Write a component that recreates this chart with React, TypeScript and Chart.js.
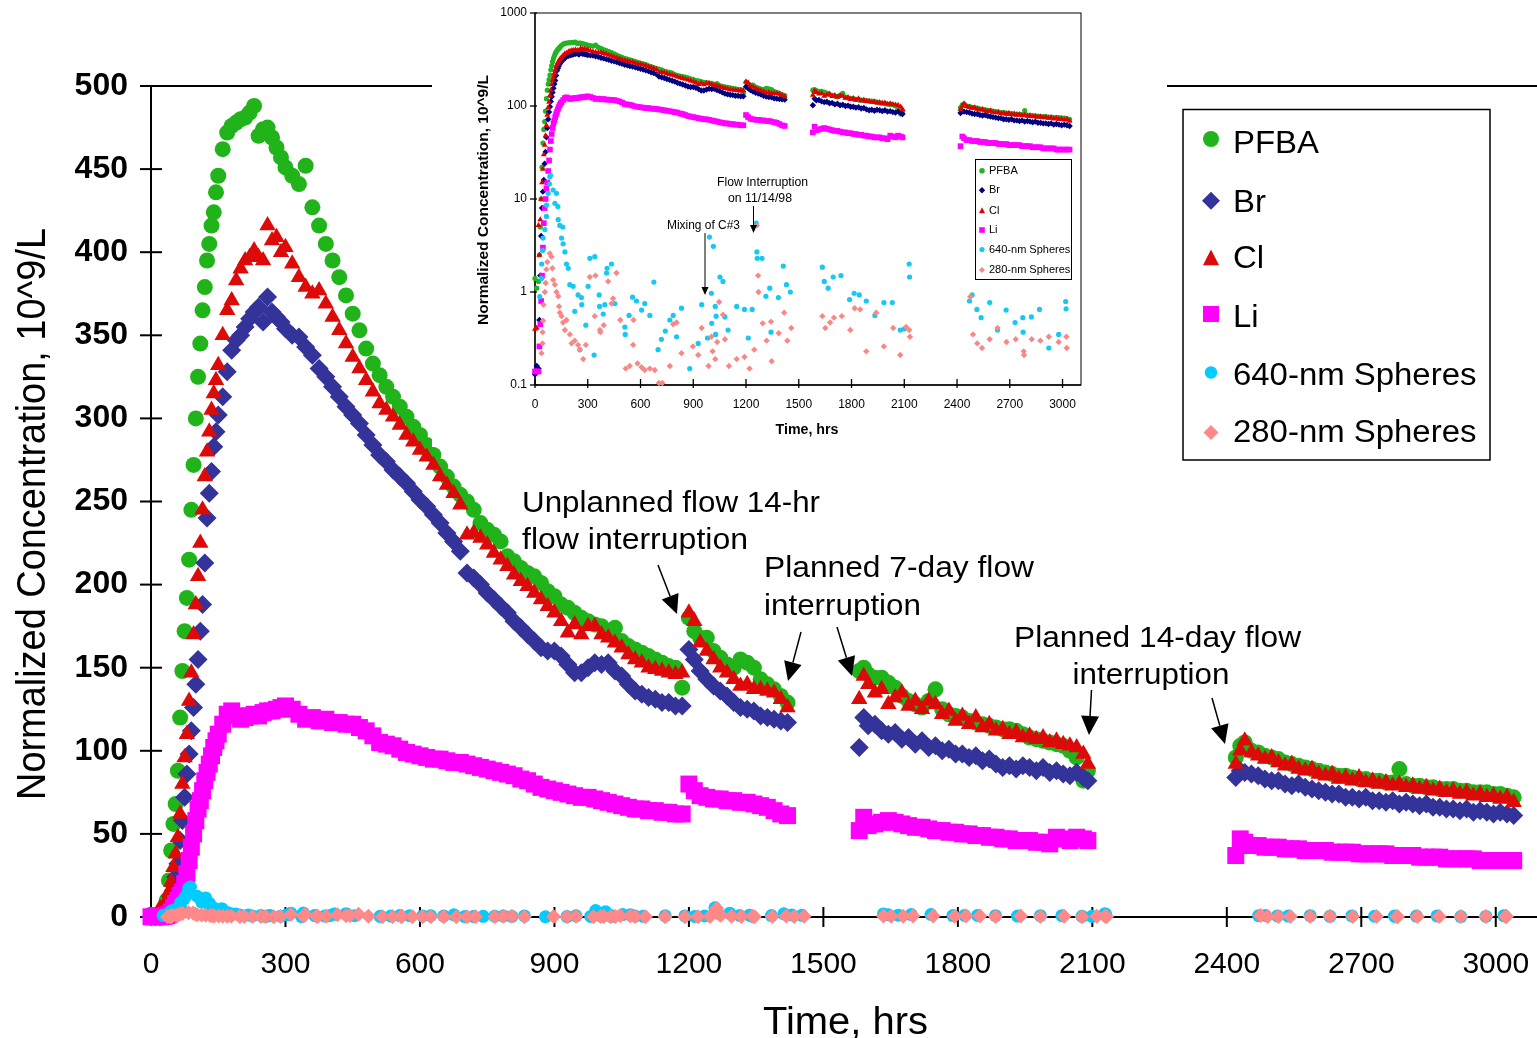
import React, { useEffect, useRef } from "react";
import { Chart, registerables } from "chart.js";

Chart.register(...registerables);

const FONT = "'Liberation Sans', Arial, Helvetica, sans-serif";

// ---------------- DATA ----------------
const tracerHours = [
  0, 10, 20, 25, 30, 35, 40, 45, 50, 55,
  60, 65, 70, 75, 80, 85, 90, 95, 100, 105,
  110, 115, 120, 125, 130, 135, 140, 145, 150,
  160, 170, 180, 190, 200, 210, 220, 230, 240, 250,
  260, 270, 280, 290, 300,
  315, 330, 345, 360, 375, 390, 405, 420, 435, 450,
  465, 480, 495, 510, 525, 540, 555, 570, 585, 600,
  615, 630, 645, 660, 675, 690, 705, 720, 735, 750,
  765, 780, 795, 810, 825, 840, 855, 870, 885, 900,
  915, 930, 945, 960, 975, 990, 1005, 1020, 1035, 1050,
  1065, 1080, 1095, 1110, 1125, 1140, 1155, 1170, 1185,
  1200, 1212, 1225, 1240, 1255, 1270, 1285, 1300, 1315, 1330,
  1345, 1360, 1375, 1390, 1405, 1420,
  1580, 1590, 1600, 1615, 1630, 1645, 1660, 1675, 1690, 1705,
  1720, 1735, 1750, 1765, 1780, 1795, 1810, 1825, 1840, 1855,
  1870, 1885, 1900, 1915, 1930, 1945, 1960, 1975, 1990, 2005,
  2020, 2035, 2050, 2065, 2080, 2090,
  2420, 2430, 2440, 2455, 2470, 2485, 2500, 2515, 2530, 2545,
  2560, 2575, 2590, 2605, 2620, 2635, 2650, 2665, 2680, 2695,
  2710, 2725, 2740, 2755, 2770, 2785, 2800, 2815, 2830, 2845,
  2860, 2875, 2890, 2905, 2920, 2935, 2950, 2965, 2980, 2995,
  3010, 3025, 3040,
];

const pfbaValues = [
  1.4, 1.1, 1.3, 2.5, 5, 10, 22, 40, 56, 68,
  88, 120, 148, 172, 192, 215, 245, 272, 300, 325,
  345, 365, 379, 395, 405, 416, 424, 436, 446,
  462, 472, 476, 478, 480, 481, 484, 488, 470, 474,
  475, 469, 463, 457, 451,
  446, 441, 452, 427, 416, 405, 395, 385, 374, 363,
  353, 342, 333, 326, 319, 313, 307, 301, 295, 290,
  284, 278, 271, 265, 259, 254, 250, 245, 237, 233,
  230, 226, 217, 214, 210, 207, 205, 201, 196, 193,
  188, 186, 183, 180, 178, 176, 175, 170, 174, 166,
  163, 161, 159, 157, 155, 153, 151, 150, 138,
  180, 172, 168, 168, 160, 156, 152, 150, 155, 153,
  150, 143, 140, 137, 133, 129,
  148, 150, 146, 144, 144, 141, 138, 133, 130, 128,
  126, 130, 137, 125, 122, 121, 120, 118, 117, 116,
  115, 114, 113, 113, 112, 110, 108, 107, 106, 105,
  104, 103, 100, 96, 82, 88,
  96, 103, 105, 100, 99, 97, 96, 95, 93, 92,
  91, 90, 89, 88, 87, 86, 85, 85, 84, 83,
  83, 82, 82, 81, 81, 89, 80, 79, 79, 78,
  78, 77, 77, 77, 76, 76, 75, 75, 75, 74,
  74, 73, 72,
];

const brValues = [
  0.13, 0.16, 0.15, 0.5, 1.5, 4, 8, 12, 16, 24,
  32, 46, 58, 72, 86, 98, 112, 126, 140, 155,
  172, 188, 213, 240, 255, 268, 283, 292, 302,
  313, 328, 341, 347, 350, 355, 360, 364, 367, 358,
  373, 364, 361, 358, 354,
  350, 349, 343, 338, 330, 325, 319, 313, 307, 302,
  297, 290, 284, 278, 274, 269, 265, 261, 256, 251,
  247, 242, 237, 231, 226, 220, 207, 204, 200, 195,
  191, 187, 183, 178, 174, 170, 166, 162, 160, 160,
  157, 152, 147, 147, 150, 153, 152, 153, 148, 145,
  140, 136, 134, 132, 131, 129, 129, 127, 127,
  161, 155, 148, 143, 139, 136, 133, 129, 126, 125,
  124, 121, 120, 119, 118, 117,
  102, 120, 115, 116, 112, 110, 111, 107, 108, 104,
  106, 102, 103, 100, 101, 98, 98, 96, 97, 94,
  95, 92, 90, 91, 89, 91, 90, 88, 90, 87,
  88, 86, 85, 87, 84, 82,
  84, 88, 87, 86, 85, 83, 82, 82, 80, 79,
  80, 78, 77, 76, 75, 74, 74, 72, 72, 71,
  72, 70, 70, 69, 70, 68, 69, 68, 67, 68,
  66, 66, 65, 65, 64, 65, 63, 64, 63, 62,
  63, 62, 61,
];

const clValues = [
  0.4, 0.41, 5.2, 2.5, 6, 10, 15, 21, 30, 38,
  48, 62, 80, 96, 110, 130, 147, 170, 188, 205,
  225, 245, 265, 280, 292, 305, 315, 323, 332,
  350, 365, 371, 383, 390, 395, 397, 401, 397, 395,
  416, 407, 409, 400, 403,
  393, 385, 379, 375, 377, 369, 361, 353, 345, 337,
  330, 323, 316, 309, 305, 301, 296, 290, 286, 281,
  277, 272, 265, 260, 255, 248, 230, 231, 228, 224,
  219, 215, 211, 206, 202, 199, 195, 191, 187, 183,
  178, 171, 176, 170, 175, 175, 170, 168, 165, 162,
  158, 155, 153, 150, 149, 148, 147, 146, 147,
  183, 178, 165, 160, 155, 150, 147, 143, 139, 140,
  137, 137, 136, 135, 131, 126,
  131, 145, 140, 135, 137, 128, 132, 135, 127, 130,
  125, 130, 128, 122, 124, 118, 121, 116, 120, 114,
  116, 112, 113, 110, 111, 108, 109, 107, 108, 105,
  106, 104, 103, 102, 98, 92,
  92, 100, 106, 99, 97, 95, 96, 93, 91, 92,
  89, 88, 89, 86, 85, 86, 83, 84, 82, 84,
  81, 82, 80, 81, 79, 80, 78, 79, 77, 78,
  76, 77, 75, 76, 74, 75, 73, 74, 72, 73,
  71, 72, 69,
];

const liValues = [
  0.14, 0.14, 0.14, 0.26, 0.45, 0.8, 1.5, 3, 5.5, 8,
  10, 13, 15, 20, 26, 34, 42, 50, 58, 65,
  70, 76, 82, 87, 92, 97, 102, 106, 110,
  116, 122, 124, 121, 119, 120, 121, 122, 121, 123,
  124, 124, 125, 126, 127,
  125, 122, 119, 120, 118, 119, 117, 117, 116, 116,
  114, 112, 109, 105, 104, 103, 101, 99, 98, 97,
  96, 95, 95, 94, 93, 93, 92, 91, 90, 89,
  88, 87, 86, 85, 83, 82, 80, 78, 77, 76,
  75, 74, 73, 72, 72, 71, 70, 69, 68, 67,
  66, 65, 65, 64, 64, 63, 63, 62, 62,
  80, 76, 73, 72, 71, 71, 70, 70, 69, 69,
  68, 67, 66, 64, 62, 61,
  52, 60, 55, 56, 57, 58, 57, 56, 55, 54,
  54, 53, 52, 52, 51, 51, 50, 50, 49, 49,
  48, 48, 47, 47, 46, 46, 46, 45, 45, 44,
  48, 47, 46, 48, 47, 46,
  37, 47, 45, 43, 43, 42, 42, 42, 41, 41,
  41, 40, 40, 40, 40, 39, 39, 39, 39, 38,
  38, 38, 38, 38, 37, 37, 37, 37, 36, 36,
  36, 36, 35, 35, 35, 35, 35, 34, 34, 34,
  34, 34, 34,
];

const sphere640Hours = [
  27, 37, 38, 43, 46, 56, 65, 66, 75, 82,
  84, 88, 103, 113, 122, 130, 132, 141, 151, 158,
  160, 170, 179, 189, 198, 217, 226, 245, 255, 264,
  266, 289, 302, 312, 336, 340, 365, 367, 388, 397,
  407, 410, 435, 454, 511, 513, 535, 555, 577, 606,
  624, 653, 676, 700, 719, 741, 767, 786, 805, 833,
  880, 928, 948, 981, 992, 1003, 1005, 1014, 1025, 1027,
  1030, 1052, 1069, 1080, 1098, 1147, 1191, 1213, 1235, 1258,
  1262, 1264, 1291, 1313, 1335, 1342, 1384, 1412, 1430, 1452,
  1634, 1645, 1667, 1696, 1740, 1789, 1815, 1844, 1884, 1933,
  1984, 2032, 2077, 2099, 2128, 2130, 2471, 2486, 2513, 2537,
  2586, 2630, 2679, 2730, 2774, 2776, 2823, 2869, 2922, 2978,
  3018, 3020,
];
const sphere640Values = [
  0.89, 1.4, 2.0, 2.8, 3.8, 4.7, 6.5, 8.6, 11.5, 14.5,
  17.3, 18, 12.5, 9, 11.5, 8.3, 6, 5.2, 3.8, 5.0,
  3.3, 2.7, 2.0, 1.8, 1.2, 1.15, 0.62, 0.93, 0.24, 0.87,
  0.73, 0.44, 1.15, 2.3, 0.21, 2.4, 0.93, 0.7, 0.58, 0.73,
  1.6, 1.8, 2.0, 0.75, 0.42, 0.35, 0.56, 0.88, 0.8, 0.64,
  0.75, 0.56, 1.28, 0.24, 0.31, 0.38, 0.5, 0.56, 0.33, 0.67,
  0.15, 0.28, 0.73, 0.32, 3.9, 0.97, 0.46, 3.1, 0.7, 0.35,
  0.55, 1.45, 1.3, 0.54, 0.39, 0.7, 0.65, 0.32, 0.65, 5.5,
  2.7, 2.3, 2.3, 0.9, 1.1, 0.37, 0.87, 1.9, 1.2, 1.0,
  1.85, 1.3, 1.1, 1.45, 1.5, 0.83, 0.97, 0.93, 0.8, 0.56,
  0.77, 0.77, 0.39, 0.4, 2.0, 1.45, 0.8, 0.93, 0.65, 0.53,
  0.77, 0.39, 0.64, 0.47, 0.53, 0.37, 0.54, 0.65, 0.25, 0.35,
  0.79, 0.66,
];

const sphere280Hours = [
  37, 42, 43, 46, 48, 56, 61, 65, 70, 84,
  94, 99, 103, 113, 122, 132, 137, 141, 151, 160,
  170, 179, 198, 208, 226, 245, 255, 274, 289, 312,
  340, 344, 369, 372, 391, 416, 435, 444, 463, 485,
  516, 539, 558, 560, 583, 606, 624, 653, 681, 705,
  724, 767, 786, 805, 833, 898, 928, 948, 987, 1003,
  1010, 1025, 1036, 1047, 1069, 1080, 1103, 1147, 1191, 1220,
  1247, 1262, 1269, 1271, 1295, 1317, 1342, 1346, 1386, 1417,
  1435, 1457, 1634, 1651, 1678, 1700, 1745, 1793, 1818, 1849,
  1884, 1940, 1984, 2037, 2077, 2110, 2128, 2132, 2475, 2491,
  2515, 2542, 2586, 2630, 2681, 2734, 2779, 2781, 2825, 2874,
  2922, 2978, 3022, 3024,
];
const sphere280Values = [
  0.22, 0.28, 0.37, 0.49, 0.73, 1.0, 1.25, 1.75, 2.1, 2.6,
  2.4, 1.8, 1.35, 1.2, 1.0, 0.9, 0.7, 0.6, 0.55, 0.47,
  0.39, 0.5, 0.35, 0.28, 0.3, 0.27, 0.24, 0.19, 0.27, 1.45,
  0.55, 1.5, 0.39, 0.37, 0.44, 1.3, 0.75, 0.85, 1.6, 0.5,
  0.15, 0.16, 0.27, 0.5, 0.17, 0.155, 0.145, 0.15, 0.145, 0.105,
  0.105, 0.16, 0.45, 0.47, 0.22, 0.26, 0.21, 0.41, 0.16, 0.33,
  0.23, 0.19, 0.29, 0.78, 0.57, 0.31, 0.16, 0.19, 0.2, 0.15,
  0.24, 5.2, 1.5, 1.0, 0.46, 0.3, 0.48, 0.18, 0.36, 0.6,
  0.3, 0.41, 0.55, 0.41, 0.47, 0.53, 0.55, 0.39, 0.67, 0.65,
  0.23, 0.6, 0.26, 0.41, 0.21, 0.42, 0.39, 0.33, 0.89, 0.35,
  0.28, 0.25, 0.31, 0.41, 0.29, 0.31, 0.23, 0.21, 0.31, 0.3,
  0.33, 0.29, 0.33, 0.25,
];

const seriesNames = ["PFBA", "Br", "Cl", "Li", "640-nm Spheres", "280-nm Spheres"];
const mainXTicks = [0, 300, 600, 900, 1200, 1500, 1800, 2100, 2400, 2700, 3000];
const mainYTicks = [0, 50, 100, 150, 200, 250, 300, 350, 400, 450, 500];
const insetXTicks = [0, 300, 600, 900, 1200, 1500, 1800, 2100, 2400, 2700, 3000];
const insetYTicks = [0.1, 1, 10, 100, 1000];

// ---------------- STYLES ----------------
const seriesHours = [tracerHours, tracerHours, tracerHours, tracerHours, sphere640Hours, sphere280Hours];
const seriesValues = [pfbaValues, brValues, clValues, liValues, sphere640Values, sphere280Values];
const mainColors = ["#21B31A", "#333399", "#DD0A0A", "#FF00FF", "#00CCFF", "#FF8888"];
const insetColors = ["#22B422", "#000080", "#E00000", "#FF00FF", "#16C8F2", "#F88888"];
const chartStyles = ["circle", "rectRot", "triangle", "rect", "circle", "rectRot"];
const mainRadius = [8, 9.5, 9.5, 12, 6.5, 7.5];
const insetRadius = [2.6, 3.2, 3.4, 4, 2.6, 3.2];
const legendShapes = ["circle", "diamond", "triangle", "square", "circle", "diamond"];

function buildDatasets(colors: string[], radii: number[]) {
  return seriesNames.map((name, i) => ({
    label: name,
    data: seriesHours[i].map((h, k) => ({ x: h, y: seriesValues[i][k] })),
    pointStyle: chartStyles[i],
    pointRadius: radii[i],
    backgroundColor: colors[i],
    borderColor: colors[i],
    borderWidth: 0,
    showLine: false,
    clip: false as any,
    order: 6 - i,
  }));
}

function drawShape(ctx: CanvasRenderingContext2D, shape: string, x: number, y: number, s: number, color: string) {
  ctx.fillStyle = color;
  ctx.beginPath();
  if (shape === "circle") ctx.arc(x, y, s, 0, Math.PI * 2);
  else if (shape === "diamond") {
    ctx.moveTo(x, y - s); ctx.lineTo(x + s, y); ctx.lineTo(x, y + s); ctx.lineTo(x - s, y); ctx.closePath();
  } else if (shape === "triangle") {
    ctx.moveTo(x, y - s); ctx.lineTo(x + s * 0.95, y + s * 0.85); ctx.lineTo(x - s * 0.95, y + s * 0.85); ctx.closePath();
  } else ctx.rect(x - s, y - s, 2 * s, 2 * s);
  ctx.fill();
}

function drawArrow(ctx: CanvasRenderingContext2D, x1: number, y1: number, x2: number, y2: number, lw: number, hl: number, hw: number) {
  const a = Math.atan2(y2 - y1, x2 - x1);
  const bx = x2 - hl * Math.cos(a), by = y2 - hl * Math.sin(a);
  ctx.strokeStyle = "#000"; ctx.fillStyle = "#000"; ctx.lineWidth = lw;
  ctx.beginPath(); ctx.moveTo(x1, y1); ctx.lineTo(bx, by); ctx.stroke();
  ctx.beginPath();
  ctx.moveTo(x2, y2);
  ctx.lineTo(bx + hw * Math.sin(a), by - hw * Math.cos(a));
  ctx.lineTo(bx - hw * Math.sin(a), by + hw * Math.cos(a));
  ctx.closePath(); ctx.fill();
}

function drawText(ctx: CanvasRenderingContext2D, text: string, x: number, y: number, font: string, opts: { width?: number; sx?: number; align?: CanvasTextAlign; baseline?: CanvasTextBaseline; rotate?: boolean } = {}) {
  ctx.save();
  ctx.font = font;
  ctx.fillStyle = "#000";
  ctx.textBaseline = opts.baseline || "alphabetic";
  ctx.textAlign = opts.align || "left";
  const w = ctx.measureText(text).width;
  const sx = opts.width ? opts.width / w : opts.sx || 1;
  ctx.translate(x, y);
  if (opts.rotate) ctx.rotate(-Math.PI / 2);
  ctx.scale(sx, 1);
  ctx.fillText(text, 0, 0);
  ctx.restore();
}

function line(ctx: CanvasRenderingContext2D, x1: number, y1: number, x2: number, y2: number) {
  ctx.beginPath(); ctx.moveTo(x1, y1); ctx.lineTo(x2, y2); ctx.stroke();
}

const mainDecor = {
  id: "mainDecor",
  beforeDatasetsDraw(chart: any) {
    const { ctx, chartArea } = chart;
    const x = chart.scales.x, y = chart.scales.y;
    ctx.save();
    ctx.strokeStyle = "#000";
    ctx.lineWidth = 2;
    line(ctx, 140, chartArea.top, chart.width, chartArea.top);
    line(ctx, chartArea.left, chartArea.top, chartArea.left, chartArea.bottom + 8);
    const y0 = y.getPixelForValue(0);
    line(ctx, chartArea.left, y0, chart.width, y0);
    mainYTicks.forEach((v) => {
      const py = y.getPixelForValue(v);
      line(ctx, chartArea.left - 11, py, chartArea.left + 11, py);
    });
    mainXTicks.forEach((t) => {
      if (t === 0) return;
      const px = x.getPixelForValue(t);
      line(ctx, px, y0 - 10, px, y0 + 10);
    });
    ctx.restore();
  },
  afterDraw(chart: any) {
    const ctx: CanvasRenderingContext2D = chart.ctx;
    ctx.save();
    // axis titles
    drawText(ctx, "Normalized Concentration, 10^9/L", 45, 514, `40px ${FONT}`, { width: 572, align: "center", rotate: true });
    drawText(ctx, "Time, hrs", 845.5, 1034, `39px ${FONT}`, { width: 165, align: "center" });
    // annotations
    const af = `30px ${FONT}`;
    drawText(ctx, "Unplanned flow 14-hr", 522, 511.5, af, { width: 298 });
    drawText(ctx, "flow interruption", 522, 548.5, af, { width: 226 });
    drawText(ctx, "Planned 7-day flow", 764, 577, af, { width: 270 });
    drawText(ctx, "interruption", 764, 615, af, { width: 157 });
    drawText(ctx, "Planned 14-day flow", 1014, 647, af, { width: 287 });
    drawText(ctx, "interruption", 1151, 683.5, af, { width: 157, align: "center" });
    drawArrow(ctx, 658, 565, 677, 614, 1.5, 19, 9);
    drawArrow(ctx, 801, 632, 788, 681, 1.5, 19, 9);
    drawArrow(ctx, 837, 627, 852, 676, 1.5, 19, 9);
    drawArrow(ctx, 1091.5, 690, 1089, 735, 1.5, 19, 9);
    drawArrow(ctx, 1212, 698, 1225, 744, 1.5, 19, 9);
    // legend
    ctx.strokeStyle = "#000"; ctx.lineWidth = 1.5;
    ctx.strokeRect(1183, 109.5, 307, 350.5);
    const lf = `31px ${FONT}`;
    ctx.font = lf;
    const sx = 243.4 / ctx.measureText("640-nm Spheres").width;
    const baselines = [153.3, 211.7, 268.3, 326.7, 385, 441.7];
    const mCenters = [139, 200.8, 258, 314, 372.5, 432.5];
    const mSizes = [8, 9, 8.5, 8, 6.2, 7.5];
    seriesNames.forEach((n, i) => {
      drawShape(ctx, legendShapes[i], 1211, mCenters[i], mSizes[i], mainColors[i]);
      drawText(ctx, n, 1233, baselines[i], lf, { sx });
    });
    ctx.restore();
  },
};

const insetDecor = {
  id: "insetDecor",
  beforeDatasetsDraw(chart: any) {
    const { ctx, chartArea } = chart;
    const x = chart.scales.x, y = chart.scales.y;
    ctx.save();
    ctx.strokeStyle = "#000";
    ctx.lineWidth = 1;
    ctx.strokeRect(chartArea.left, chartArea.top, chartArea.right - chartArea.left, chartArea.bottom - chartArea.top);
    ctx.lineWidth = 1.3;
    line(ctx, chartArea.left, chartArea.top, chartArea.left, chartArea.bottom);
    line(ctx, chartArea.left, chartArea.bottom, chartArea.right, chartArea.bottom);
    insetYTicks.forEach((v) => {
      const py = y.getPixelForValue(v);
      line(ctx, chartArea.left - 5, py, chartArea.left + 2, py);
    });
    insetXTicks.forEach((t) => {
      const px = x.getPixelForValue(t);
      line(ctx, px, chartArea.bottom - 6, px, chartArea.bottom + 3);
    });
    ctx.restore();
  },
  afterDraw(chart: any) {
    const ctx: CanvasRenderingContext2D = chart.ctx;
    ctx.save();
    drawText(ctx, "Normalized Concentration, 10^9/L", 56, 200, `bold 14px ${FONT}`, { width: 250, align: "center", rotate: true });
    drawText(ctx, "Time, hrs", 375, 434, `bold 14px ${FONT}`, { width: 63, align: "center" });
    const tf = `12px ${FONT}`;
    drawText(ctx, "Flow Interruption", 330.5, 183, tf, { width: 91, align: "center", baseline: "middle" });
    drawText(ctx, "on 11/14/98", 328, 199, tf, { width: 64, align: "center", baseline: "middle" });
    drawText(ctx, "Mixing of C#3", 271.5, 226, tf, { width: 73, align: "center", baseline: "middle" });
    drawArrow(ctx, 321.5, 206, 321.5, 233, 1, 8, 3.5);
    drawArrow(ctx, 273, 233, 273, 295, 1, 8, 3.5);
    // legend
    ctx.strokeStyle = "#000"; ctx.lineWidth = 1;
    ctx.strokeRect(543.5, 159.5, 96, 120);
    const ys = [170.7, 190.3, 210.5, 230, 249.5, 270];
    const ms = [2.8, 3.2, 3.2, 2.8, 2.6, 3];
    seriesNames.forEach((n, i) => {
      drawShape(ctx, legendShapes[i], 550, ys[i], ms[i], insetColors[i]);
      drawText(ctx, n, 557, ys[i], `11px ${FONT}`, { baseline: "middle" });
    });
    ctx.restore();
  },
};

export default function App() {
  const mainRef = useRef<HTMLCanvasElement>(null);
  const insetRef = useRef<HTMLCanvasElement>(null);

  useEffect(() => {
    document.body.style.margin = "0";
    Chart.defaults.font.family = FONT;
    Chart.defaults.color = "#000";

    const mainChart = new Chart(mainRef.current as HTMLCanvasElement, {
      type: "scatter",
      data: { datasets: buildDatasets(mainColors, mainRadius) as any },
      options: {
        animation: false,
        responsive: false,
        devicePixelRatio: 1,
        events: [],
        layout: { autoPadding: false, padding: { top: 86, left: 0, right: 0, bottom: 0 } },
        plugins: { legend: { display: false }, tooltip: { enabled: false } },
        scales: {
          x: {
            type: "linear",
            min: 0,
            max: 3092,
            afterBuildTicks: (s: any) => { s.ticks = mainXTicks.map((v) => ({ value: v })); },
            afterFit: (s: any) => { s.height = 121; s.paddingLeft = 0; s.paddingRight = 0; },
            grid: { display: false, drawTicks: false },
            border: { display: false },
            ticks: { padding: 30, autoSkip: false, maxRotation: 0, color: "#000", font: { size: 30 }, callback: (v: any) => String(v) },
          },
          y: {
            type: "linear",
            min: 0,
            max: 500,
            afterBuildTicks: (s: any) => { s.ticks = mainYTicks.map((v) => ({ value: v })); },
            afterFit: (s: any) => { s.width = 151; s.paddingTop = 0; s.paddingBottom = 0; },
            grid: { display: false, drawTicks: false },
            border: { display: false },
            ticks: { padding: 23, color: "#000", font: { size: 32, weight: "bold" }, callback: (v: any) => String(v) },
          },
        },
      } as any,
      plugins: [mainDecor as any],
    });

    const insetChart = new Chart(insetRef.current as HTMLCanvasElement, {
      type: "scatter",
      data: { datasets: buildDatasets(insetColors, insetRadius) as any },
      options: {
        animation: false,
        responsive: false,
        devicePixelRatio: 1,
        events: [],
        layout: { autoPadding: false, padding: { top: 13, left: 0, right: 86, bottom: 0 } },
        plugins: { legend: { display: false }, tooltip: { enabled: false } },
        scales: {
          x: {
            type: "linear",
            min: 0,
            max: 3105,
            afterBuildTicks: (s: any) => { s.ticks = insetXTicks.map((v) => ({ value: v })); },
            afterFit: (s: any) => { s.height = 62; s.paddingLeft = 0; s.paddingRight = 0; },
            grid: { display: false, drawTicks: false },
            border: { display: false },
            ticks: { padding: 12, autoSkip: false, maxRotation: 0, color: "#000", font: { size: 12 }, callback: (v: any) => String(v) },
          },
          y: {
            type: "logarithmic",
            min: 0.1,
            max: 1000,
            afterBuildTicks: (s: any) => { s.ticks = insetYTicks.map((v) => ({ value: v })); },
            afterFit: (s: any) => { s.width = 103; s.paddingTop = 0; s.paddingBottom = 0; },
            grid: { display: false, drawTicks: false },
            border: { display: false },
            ticks: { padding: 8, color: "#000", font: { size: 12 }, callback: (v: any) => String(v) },
          },
        },
      } as any,
      plugins: [insetDecor as any],
    });

    return () => {
      mainChart.destroy();
      insetChart.destroy();
    };
  }, []);

  return (
    <div style={{ position: "relative", width: 1537, height: 1038, overflow: "hidden", background: "#fff" }}>
      <canvas ref={mainRef} width={1537} height={1038} style={{ position: "absolute", left: 0, top: 0, width: 1537, height: 1038 }} />
      <canvas ref={insetRef} width={735} height={447} style={{ position: "absolute", left: 432, top: 0, width: 735, height: 447, background: "#fff" }} />
    </div>
  );
}
